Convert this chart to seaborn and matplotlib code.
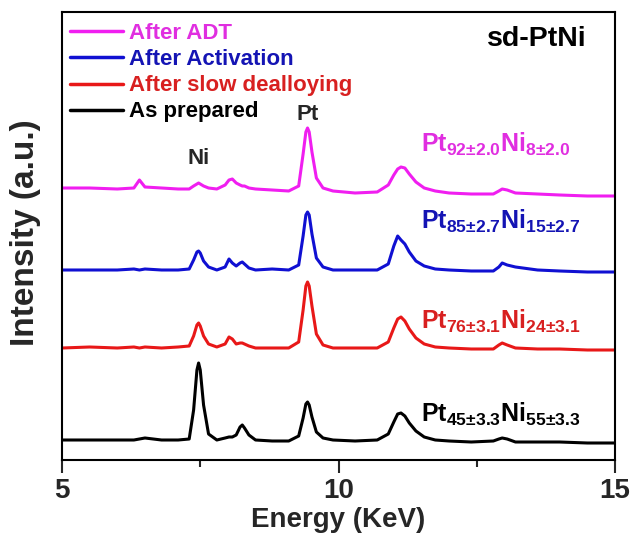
import matplotlib
matplotlib.use("Agg")
import matplotlib.pyplot as plt
from matplotlib.ticker import MultipleLocator
import numpy as np
import pandas as pd
import seaborn as sns

# EDS spectra of sd-PtNi at different stages (arbitrary units, baseline at 0)
energy_kev = [
    5.00, 5.50, 6.00, 6.30, 6.40, 6.50, 6.80, 7.10, 7.30, 7.38,
    7.44, 7.47, 7.50, 7.56, 7.65, 7.80, 7.95, 8.02, 8.08, 8.15,
    8.22, 8.26, 8.30, 8.38, 8.50, 8.80, 9.10, 9.28, 9.36, 9.41,
    9.44, 9.47, 9.52, 9.60, 9.72, 9.90, 10.30, 10.70, 10.90, 11.00,
    11.07, 11.13, 11.20, 11.28, 11.40, 11.55, 11.75, 12.00, 12.40, 12.80,
    12.90, 12.96, 13.05, 13.20, 13.60, 14.00, 14.50, 15.00,
]

as_prepared = [
    0, 0, 0, 0, 1, 2, 0, 0, 1, 30,
    70, 77, 70, 35, 6, 0, 2, 3, 3, 5,
    13, 15, 12, 5, 0, -1, -1, 4, 22, 36,
    38, 35, 23, 8, 2, 0, -1, 0, 6, 18,
    26, 27, 24, 17, 9, 3, 0, -1, -2, -1,
    1, 2, 1, -2, -2, -2, -3, -3,
]

after_slow_dealloying = [
    0, 1, 0, 1, 0, 1, 0, 1, 2, 12,
    23, 25, 22, 12, 4, 1, 4, 11, 9, 4,
    5, 5, 4, 2, 0, 0, 0, 6, 38, 62,
    66, 62, 42, 14, 3, 0, 0, 0, 6, 20,
    29, 31, 27, 19, 10, 4, 1, 0, -1, -1,
    3, 5, 3, 0, -1, -1, -2, -2,
]

after_activation = [
    0, 0, 0, 1, 0, 1, 0, 0, 1, 10,
    18, 19, 17, 9, 3, 0, 3, 11, 7, 4,
    7, 8, 6, 2, 0, 1, 0, 5, 34, 55,
    58, 55, 36, 12, 3, 0, 0, 0, 6, 24,
    34, 30, 26, 18, 9, 4, 1, 0, -1, -1,
    3, 7, 5, 3, 0, -1, -2, -2,
]

after_adt = [
    0, 0, -1, 0, 8, 1, 0, -1, -1, 2,
    4, 5, 4, 2, 0, -1, 3, 8, 9, 5,
    3, 2, 2, 0, -1, -2, -3, 2, 34, 56,
    60, 56, 36, 10, 0, -3, -5, -4, 3, 13,
    19, 21, 20, 14, 6, 0, -3, -5, -6, -6,
    -3, -1, -2, -5, -6, -7, -8, -8,
]

samples = ["After ADT", "After Activation", "After slow dealloying", "As prepared"]
spectra = [after_adt, after_activation, after_slow_dealloying, as_prepared]
stack_offsets = [272, 190, 112, 20]
line_colors = ["#f01ef0", "#1010d2", "#e81818", "#000000"]
text_colors = ["#e02ee0", "#1414b4", "#d82020", "#000000"]
compositions = [
    r"$\mathbf{Pt_{92{\pm}2.0}Ni_{8{\pm}2.0}}$",
    r"$\mathbf{Pt_{85{\pm}2.7}Ni_{15{\pm}2.7}}$",
    r"$\mathbf{Pt_{76{\pm}3.1}Ni_{24{\pm}3.1}}$",
    r"$\mathbf{Pt_{45{\pm}3.3}Ni_{55{\pm}3.3}}$",
]
composition_y = [316, 239, 139, 46]

x_ticks = [5, 10, 15]

rows = []
for name, values, off in zip(samples, spectra, stack_offsets):
    for e, v in zip(energy_kev, values):
        rows.append({"Energy": e, "Intensity": v + off, "Sample": name})
df = pd.DataFrame(rows)

sns.set_theme(style="white")
plt.rcParams["font.family"] = ["Liberation Sans", "DejaVu Sans"]
plt.rcParams["font.weight"] = "bold"
plt.rcParams["mathtext.fontset"] = "custom"
plt.rcParams["mathtext.rm"] = "Liberation Sans:bold"
plt.rcParams["mathtext.bf"] = "Liberation Sans:bold"
plt.rcParams["mathtext.it"] = "Liberation Sans:bold"

fig = plt.figure(figsize=(6.32, 5.35), dpi=100)
ax = fig.add_axes([62 / 632, 1 - 460 / 535, (615 - 62) / 632, (460 - 12) / 535])

sns.lineplot(
    data=df, x="Energy", y="Intensity", hue="Sample",
    hue_order=samples, palette=line_colors,
    estimator=None, sort=False, linewidth=2.2, ax=ax,
)

ax.set_xlim(5, 15)
ax.set_ylim(0, 448)
ax.set_xticks(x_ticks)
ax.set_xticklabels([str(t) for t in x_ticks])
ax.xaxis.set_minor_locator(MultipleLocator(2.5))
ax.set_yticks([])
ax.tick_params(axis="x", which="major", direction="out", length=9, width=1.5,
               labelsize=20, pad=4, bottom=True, top=False)
ax.tick_params(axis="x", which="minor", direction="out", length=5, width=1.5,
               bottom=True, top=False)
for lbl in ax.get_xticklabels():
    lbl.set_fontweight("bold")
for sp in ax.spines.values():
    sp.set_color("black")
    sp.set_linewidth(1.5)

ax.set_xlabel("Energy (KeV)", fontsize=20, fontweight="bold", labelpad=2)
ax.set_ylabel("Intensity (a.u.)", fontsize=24, fontweight="bold")
ax.yaxis.set_label_coords(-0.038, 0.508)

leg = ax.legend(
    loc="upper left", bbox_to_anchor=(0.006, 0.985), frameon=False,
    handlelength=2.4, handletextpad=0.25,
    labelspacing=0.23, borderpad=0.2, borderaxespad=0.0,
    labelcolor=text_colors, prop={"weight": "bold", "size": 16},
)
for h in leg.get_lines():
    h.set_linewidth(2.5)

ax.text(0.948, 0.94, "sd-PtNi", transform=ax.transAxes, ha="right", va="center",
        fontsize=20.5, fontweight="bold", color="black")
ax.text(9.44, 345, "Pt", ha="center", va="center", fontsize=16, fontweight="bold")
ax.text(7.47, 301, "Ni", ha="center", va="center", fontsize=16, fontweight="bold")

for label, y, col in zip(compositions, composition_y, text_colors):
    ax.text(11.5, y, label, ha="left", va="center", fontsize=18, color=col)

fig.savefig("out.png", dpi=100)
